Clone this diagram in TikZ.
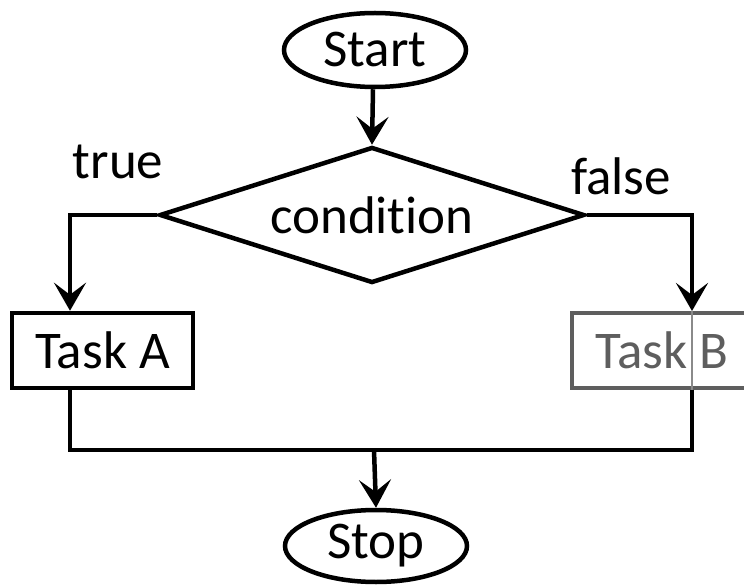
\documentclass[tikz,border=0pt]{standalone}
\usepackage{fontspec}
\setmainfont[Ligatures=NoCommon]{Carlito}
\usetikzlibrary{arrows.meta,shapes.geometric}
\definecolor{boxgray}{HTML}{5E5E5E}
\definecolor{thingray}{HTML}{8A8A8A}
\tikzset{
  base/.style={line width=4.5pt, font=\fontsize{53}{62}\selectfont, inner sep=0pt},
  terminal/.style={base, draw, ellipse},
  decision/.style={base, draw, diamond, aspect=3.125, line join=miter},
  process/.style={base, draw, rectangle},
  faded/.style={base, draw=boxgray, text=boxgray, rectangle, line width=4pt},
  label/.style={font=\fontsize{53}{62}\selectfont, inner sep=0pt},
  flow/.style={line width=4.5pt, -{Stealth[length=28pt, width=32pt, inset=12pt]}},
  wire/.style={line width=4.5pt},
}
\begin{document}
\begin{tikzpicture}[x=1pt, y=-1pt]
  \useasboundingbox (0,0) rectangle (744,585);
  \clip (0,0) rectangle (744,585);

  % nodes
  \node[terminal, minimum width=182pt, minimum height=74pt] (start) at (375,50) {Start};
  \node[decision, minimum width=425pt, minimum height=136pt] (cond) at (372,215) {condition};
  \node[process, minimum width=181pt, minimum height=75pt] (taskA) at (102.5,350.5) {Task A};
  \node[faded, minimum width=180pt, minimum height=75pt] (taskB) at (662,350.5) {Task B};
  \node[terminal, minimum width=182pt, minimum height=72pt] (stop) at (376,546) {Stop};

  % branch labels
  \node[label] (tlabel) at (118,162) {true};
  \node[label] (flabel) at (621,176) {false};

  % connectors
  \draw[flow] ([xshift=-2pt]start.south) -- (cond.north);
  \draw[flow] (cond.west) -| ([xshift=-32.5pt]taskA.north);
  \draw[flow] (cond.east) -| ([xshift=30pt]taskB.north);

  \coordinate (merge) at (374,450);
  \draw[wire] ([xshift=-32.5pt]taskA.south) |- (merge)
              -| ([xshift=30pt]taskB.south);
  \draw[thingray, line width=1.5pt] ([xshift=30pt]taskB.north) -- ([xshift=30pt]taskB.south);
  \draw[flow] (merge) -- (stop.north);
\end{tikzpicture}
\end{document}
